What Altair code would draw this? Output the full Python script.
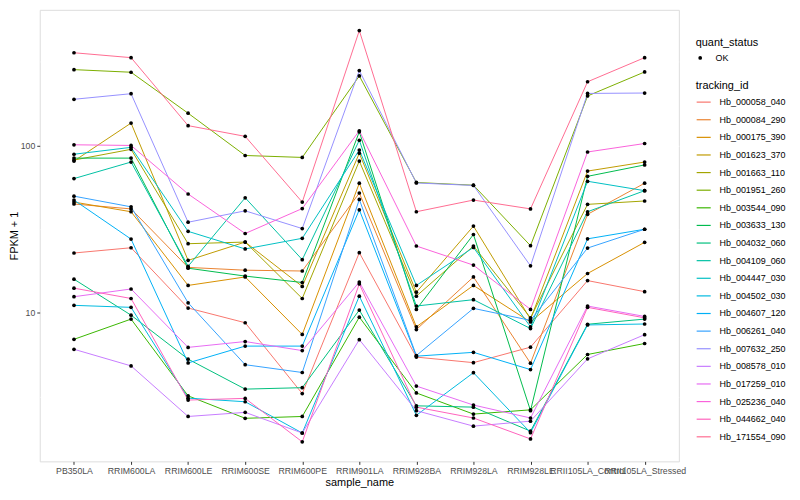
import altair as alt
import pandas as pd

samples = ["PB350LA", "RRIM600LA", "RRIM600LE", "RRIM600SE", "RRIM600PE", "RRIM901LA",
           "RRIM928BA", "RRIM928LA", "RRIM928LE", "RRII105LA_Control", "RRII105LA_Stressed"]

tracking_ids = ["Hb_000058_040", "Hb_000084_290", "Hb_000175_390", "Hb_001623_370", "Hb_001663_110",
                "Hb_001951_260", "Hb_003544_090", "Hb_003633_130", "Hb_004032_060", "Hb_004109_060",
                "Hb_004447_030", "Hb_004502_030", "Hb_004607_120", "Hb_006261_040", "Hb_007632_250",
                "Hb_008578_010", "Hb_017259_010", "Hb_025236_040", "Hb_044662_040", "Hb_171554_090"]

colors = ["#F8766D", "#EA8331", "#D89000", "#C09B00", "#A3A500", "#7CAE00", "#39B600", "#00BB4E",
          "#00BF7D", "#00C1A3", "#00BFC4", "#00BAE0", "#00B0F6", "#35A2FF", "#9590FF", "#C77CFF",
          "#E76BF3", "#FA62DB", "#FF62BC", "#FF6C91"]

hb_000058_040 = [22.8, 24.5, 10.7, 8.74, 3.30, 22.9, 5.45, 5.05, 6.25, 15.6, 13.4]
hb_000084_290 = [44.7, 41.8, 18.7, 18.0, 17.8, 52.0, 7.96, 16.4, 5.01, 38.8, 59.5]
hb_000175_390 = [45.9, 40.2, 14.6, 16.4, 7.44, 59.5, 8.26, 14.6, 8.83, 17.2, 26.4]
hb_001623_370 = [80.7, 136.0, 20.6, 26.5, 14.4, 89.8, 13.3, 33.0, 9.19, 70.3, 79.6]
hb_001663_110 = [81.8, 94.8, 25.9, 26.5, 12.2, 80.7, 12.6, 25.1, 9.35, 44.5, 46.6]
hb_001951_260 = [283.5, 273.5, 155.7, 87.1, 84.8, 260.0, 60.1, 57.9, 25.2, 197.4, 274.6]
hb_003544_090 = [6.96, 9.19, 3.20, 2.35, 2.41, 9.44, 3.33, 2.49, 2.64, 5.65, 6.57]
hb_003633_130 = [84.0, 84.0, 18.5, 16.6, 15.2, 120.6, 10.5, 29.4, 2.61, 65.4, 76.5]
hb_004032_060 = [15.9, 9.70, 5.30, 3.51, 3.58, 10.4, 2.79, 2.74, 1.97, 8.56, 9.19]
hb_004109_060 = [63.4, 79.6, 19.0, 48.7, 20.8, 107.4, 11.0, 12.0, 8.07, 40.2, 53.7]
hb_004447_030 = [88.6, 97.4, 30.7, 24.1, 27.9, 93.9, 14.6, 24.6, 8.26, 61.1, 53.7]
hb_004502_030 = [11.1, 10.8, 3.10, 2.95, 1.92, 12.6, 2.45, 4.40, 1.93, 8.48, 8.59]
hb_004607_120 = [47.2, 27.6, 5.03, 6.34, 6.34, 41.3, 5.52, 5.82, 4.59, 27.7, 31.6]
hb_006261_040 = [49.8, 43.0, 11.5, 4.91, 4.41, 47.6, 5.57, 10.65, 9.03, 24.4, 31.6]
hb_007632_250 = [188.6, 203.6, 34.8, 40.7, 31.9, 279.7, 59.7, 57.7, 19.1, 204.4, 205.5]
hb_008578_010 = [6.07, 4.83, 2.41, 2.55, 1.92, 6.93, 2.61, 2.11, 2.26, 5.32, 7.42]
hb_017259_010 = [12.5, 13.9, 6.23, 6.75, 5.96, 15.3, 3.66, 2.82, 2.36, 11.0, 9.53]
hb_025236_040 = [100.9, 100.0, 51.3, 29.8, 42.0, 122.3, 25.1, 19.3, 10.5, 91.4, 102.7]
hb_044662_040 = [14.06, 12.2, 3.02, 3.09, 1.70, 14.9, 2.74, 2.36, 1.77, 10.8, 9.35]
hb_171554_090 = [357.5, 334.3, 131.3, 113.3, 45.9, 484.8, 40.2, 47.2, 41.8, 240.0, 334.3]

series = [hb_000058_040, hb_000084_290, hb_000175_390, hb_001623_370, hb_001663_110,
          hb_001951_260, hb_003544_090, hb_003633_130, hb_004032_060, hb_004109_060,
          hb_004447_030, hb_004502_030, hb_004607_120, hb_006261_040, hb_007632_250,
          hb_008578_010, hb_017259_010, hb_025236_040, hb_044662_040, hb_171554_090]

rows = []
for tid, vals in zip(tracking_ids, series):
    for s, v in zip(samples, vals):
        rows.append({"tracking_id": tid, "sample_name": s, "fpkm": v, "quant_status": "OK"})
df = pd.DataFrame(rows)

FONT = "Liberation Sans"
MAJOR = "(datum.value > 9.9 && datum.value < 10.1) || (datum.value > 99 && datum.value < 101)"

x_enc = alt.X("sample_name:N", sort=samples, title="sample_name",
              scale=alt.Scale(type="point", padding=0.6),
              axis=alt.Axis(labelAngle=0, labelOverlap=False, labelBound=False,
                            labelFontSize=8.8, labelColor="#4D4D4D", labelPadding=2,
                            tickSize=3, tickColor="#333333", domain=False,
                            gridColor="white", gridWidth=1.1,
                            titleFontSize=11, titleFontWeight="normal", titleColor="black",
                            titlePadding=2))

y_enc = alt.Y("fpkm:Q", title="FPKM + 1",
              scale=alt.Scale(type="log", domain=[1.30, 645], nice=False, zero=False),
              axis=alt.Axis(values=[3.1623, 10, 31.623, 100, 316.23],
                            labelExpr="(datum.value > 9.9 && datum.value < 10.1) ? '10' : ((datum.value > 99 && datum.value < 101) ? '100' : '')",
                            labelFontSize=8.8, labelColor="#4D4D4D", labelPadding=2,
                            tickSize=3, tickColor="#333333", domain=False,
                            tickOpacity={"condition": {"test": MAJOR, "value": 1}, "value": 0},
                            gridColor="white", gridOpacity=1,
                            gridWidth={"condition": {"test": MAJOR, "value": 1.1}, "value": 0.55},
                            titleFontSize=11, titleFontWeight="normal", titleColor="black",
                            titlePadding=1))

lines = alt.Chart(df).mark_line(strokeWidth=1).encode(
    x=x_enc, y=y_enc,
    color=alt.Color("tracking_id:N", scale=alt.Scale(domain=tracking_ids, range=colors),
                    legend=alt.Legend(title="tracking_id", orient="none", legendX=661, legendY=71,
                                      symbolType="stroke", symbolSize=200, symbolStrokeWidth=1.2,
                                      labelFontSize=9, titleFontSize=11, titleFontWeight="normal",
                                      titleColor="black", labelColor="black", rowPadding=4.75,
                                      titlePadding=3, labelOffset=8, labelFont=FONT, titleFont=FONT))
)

points = alt.Chart(df).mark_point(filled=True, color="black", size=14, opacity=1).encode(
    x=x_enc, y=y_enc,
    shape=alt.Shape("quant_status:N", scale=alt.Scale(range=["circle"]),
                    legend=alt.Legend(title="quant_status", orient="none", legendX=661, legendY=27,
                                      symbolFillColor="black", symbolStrokeColor="black",
                                      symbolSize=14, labelFontSize=9, titleFontSize=11,
                                      titleFontWeight="normal", titleColor="black",
                                      labelColor="black", titlePadding=6, labelOffset=11,
                                      labelFont=FONT, titleFont=FONT))
)

chart = alt.layer(lines, points).properties(
    width=644, height=455,
    autosize=alt.AutoSizeParams(type="none"),
    padding={"left": 32, "top": 0, "right": 114, "bottom": 27},
    background="white",
).configure_view(
    fill="#EBEBEB", stroke="transparent"
).configure(
    font=FONT
)

chart.save("out.html", embed_options={"renderer": "svg", "actions": False})
